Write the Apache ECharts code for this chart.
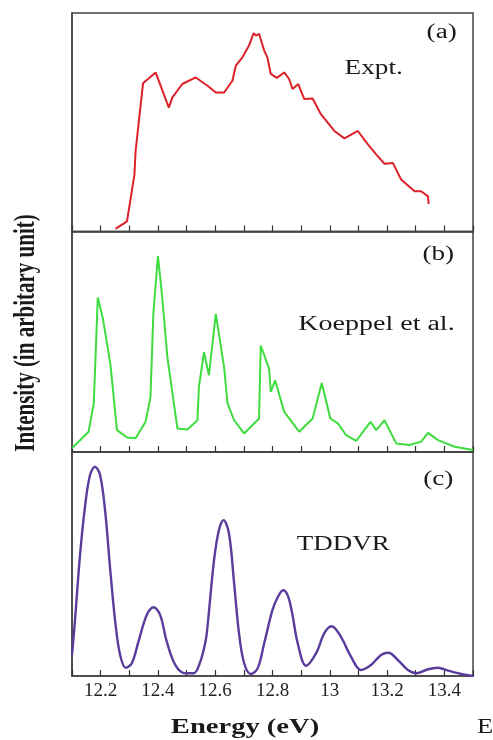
<!DOCTYPE html>
<html>
<head>
<meta charset="utf-8">
<script src="https://cdn.jsdelivr.net/npm/echarts@6/dist/echarts.min.js"></script>
<style>
html,body{margin:0;padding:0;background:#fff;}
#chart{width:493px;height:740px;}
</style>
</head>
<body>
<div id="chart"></div>
<script>
// Panel (a) Expt.
const energyA = [12.252,12.292,12.318,12.322,12.348,12.392,12.438,12.45,12.485,12.532,12.573,12.602,12.631,12.66,12.672,12.695,12.718,12.734,12.742,12.753,12.771,12.782,12.794,12.815,12.841,12.858,12.87,12.89,12.911,12.94,12.969,13.016,13.051,13.098,13.133,13.162,13.191,13.22,13.249,13.296,13.319,13.343,13.345];
const intensityA = [1.2,4.6,26,36.8,67.8,72.8,56.7,61.3,67.5,70.5,66.7,63.6,63.6,69,75.9,79.7,85.1,90.8,89.7,90.5,82.8,79.7,72.1,70.3,72.8,69.8,65.2,67.5,60.6,60.9,53.7,46,42.6,46,39.9,35.3,31,31.4,23.8,18.4,18.4,16.1,12.6];

// Panel (b) Koeppel et al.
const energyB = [12.1,12.158,12.176,12.19,12.208,12.234,12.257,12.293,12.322,12.357,12.374,12.384,12.4,12.415,12.433,12.468,12.503,12.538,12.543,12.561,12.578,12.602,12.631,12.643,12.666,12.701,12.753,12.759,12.788,12.794,12.809,12.841,12.893,12.94,12.972,13.002,13.028,13.057,13.092,13.142,13.162,13.191,13.232,13.278,13.319,13.343,13.378,13.436,13.5];
const intensityB = [1.7,9.2,22,70.1,60.4,40,9.9,6.6,6.2,13.7,25,62.6,88.9,70.1,43,10.7,10.2,14.4,29.5,45.3,34.8,62.6,38.5,22,14.4,8.4,15.2,48.3,37.8,27.2,32.5,18.2,9.2,15.2,31.3,15.2,13,7.7,5,13.7,9.9,14.4,3.9,3.2,4.7,8.7,5.4,2.4,0.9];

// Panel (c) TDDVR
const energyC = [12.1,12.11,12.128,12.146,12.163,12.18,12.198,12.216,12.233,12.251,12.268,12.288,12.309,12.332,12.361,12.385,12.408,12.431,12.461,12.496,12.525,12.548,12.566,12.573,12.596,12.613,12.629,12.648,12.666,12.683,12.701,12.724,12.748,12.771,12.8,12.82,12.837,12.853,12.868,12.888,12.917,12.952,12.981,13.006,13.039,13.074,13.109,13.144,13.179,13.205,13.238,13.273,13.302,13.343,13.378,13.413,13.459,13.5];
const intensityC = [9.4,24.2,54,76.3,89.7,93.4,89.7,73.3,48.1,24.2,9.4,3.7,5.7,15.3,27.2,30.7,27.2,15.3,4.9,1.2,1.2,6.4,15.3,22,51.8,65.2,69.6,63.7,41.4,19.1,5.7,0.9,3.4,14.6,29.5,35.6,38.3,36,28.5,14.6,4.6,10.1,19.1,22.2,17.5,8.6,2.7,4.9,9.4,10.4,7.1,2.7,1.2,3,3.7,2.4,0.9,0];

const xMin = 12.1, xMax = 13.5, xStep = 0.1;
const panelLabels = ['(a)', '(b)', '(c)'];
const seriesNames = ['Expt.', 'Koeppel et al.', 'TDDVR'];
const xTitle = 'Energy (eV)';
const yTitle = 'Intensity (in arbitary unit)';

const zip = (xs, ys) => xs.map((x, i) => [x, ys[i]]);
const serif = 'Liberation Serif';
const frame = '#444';

const grids = [
  {left: 72, right: 20, top: 13, height: 218.5},
  {left: 72, right: 20, top: 231.5, height: 220.5},
  {left: 72, right: 20, top: 452, height: 224}
].map(g => Object.assign(g, {show: true, borderColor: frame, borderWidth: 1.5, backgroundColor: 'transparent'}));

const xAxes = [0, 1, 2].map(i => ({
  type: 'value', gridIndex: i, min: xMin, max: xMax, interval: xStep,
  axisLine: {show: true, lineStyle: {color: frame, width: 1.5}},
  axisTick: {show: true, inside: true, length: 6, lineStyle: {color: '#333', width: 1.2}},
  splitLine: {show: false},
  axisLabel: {
    show: i === 2, margin: 6, color: '#222', fontFamily: serif, fontSize: 19,
    formatter: v => {
      const k = Math.round(v * 10);
      if (k % 2 !== 0 || k <= 121 || k >= 135) return '';
      return String(k / 10);
    }
  }
}));

const yAxes = [0, 1, 2].map(i => ({
  type: 'value', gridIndex: i, min: 0, max: 100,
  axisLine: {show: true, lineStyle: {color: frame, width: 1.5}},
  axisTick: {show: false}, axisLabel: {show: false}, splitLine: {show: false}
}));

const mk = (i, name, data, color, width, smooth) => ({
  type: 'line', name, xAxisIndex: i, yAxisIndex: i, data,
  showSymbol: false, smooth, lineStyle: {color, width}, silent: true, animation: false
});

const txt = (x, y, text, size, opts = {}) => ({
  type: 'text', x, y, scaleX: opts.sx || 1, scaleY: opts.sy || 1, rotation: opts.rot || 0,
  style: {x: 0, y: 0, text, fill: '#1a1a1a', font: (opts.bold ? 'bold ' : '') + size + 'px "' + serif + '"',
    textAlign: opts.align || 'center', textVerticalAlign: 'middle'}
});

const chart = echarts.init(document.getElementById('chart'), null, {renderer: 'canvas'});
chart.setOption({
  animation: false,
  backgroundColor: '#fff',
  grid: grids,
  xAxis: xAxes,
  yAxis: yAxes,
  series: [
    mk(0, seriesNames[0], zip(energyA, intensityA), '#dc2228', 2, false),
    mk(1, seriesNames[1], zip(energyB, intensityB), '#3fdc3f', 2, false),
    mk(2, seriesNames[2], zip(energyC, intensityC), '#5a3c9c', 2.4, 0.35)
  ],
  graphic: [
    txt(441.7, 32.3, panelLabels[0], 20, {sx: 1.36}),
    txt(373.7, 69, seriesNames[0], 20, {sx: 1.36}),
    txt(438.3, 255, panelLabels[1], 20, {sx: 1.36}),
    txt(376.5, 325, seriesNames[1], 20, {sx: 1.4}),
    txt(438.3, 480, panelLabels[2], 20, {sx: 1.36}),
    txt(343.3, 544.5, seriesNames[2], 20, {sx: 1.35}),
    txt(245, 727.5, xTitle, 21, {sx: 1.36, bold: true}),
    txt(477, 727.5, 'E', 22, {sx: 1.2, align: 'left'}),
    txt(26.7, 333, yTitle, 21, {sy: 1.36, bold: true, rot: Math.PI / 2})
  ]
});
</script>
</body>
</html>
